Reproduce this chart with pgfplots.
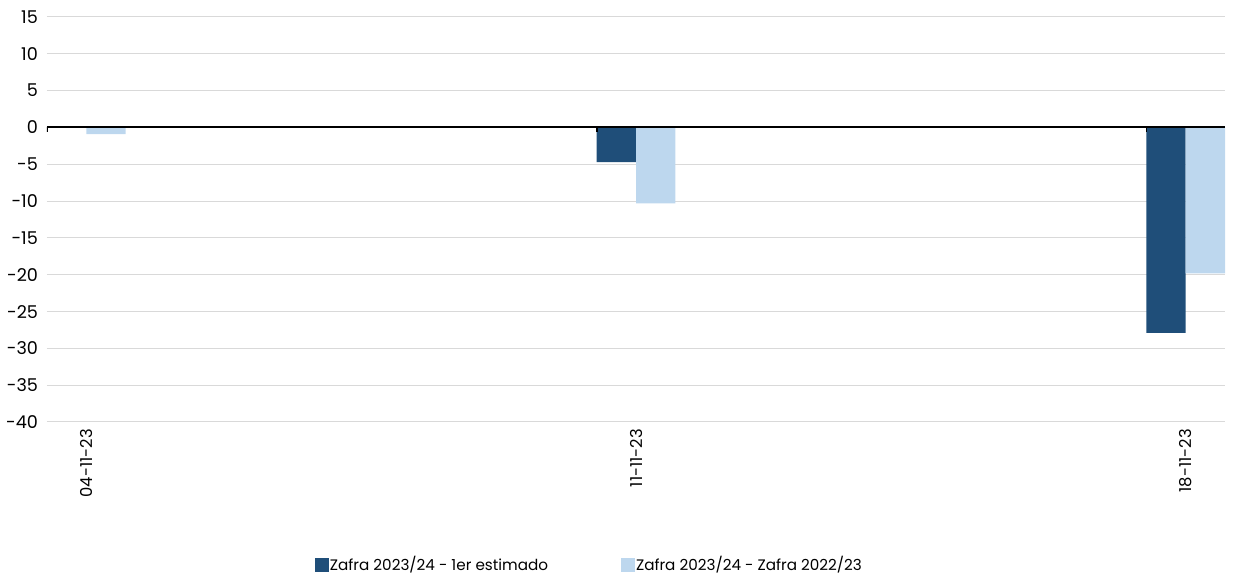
\documentclass[border=0pt]{standalone}
\usepackage{fontspec}
\setmainfont{Poppins}
\usepackage{pgfplots}
\pgfplotsset{compat=1.18}
\definecolor{darkbar}{HTML}{1F4E79}
\definecolor{lightbar}{HTML}{BDD7EE}
\definecolor{gridgrey}{HTML}{D9D9D9}

\begin{document}
\begin{tikzpicture}
\useasboundingbox (-23.5pt,-78pt) rectangle (593pt,211pt);
\begin{axis}[
    scale only axis,
    width=589pt, height=202.5pt,
    xmin=-0.5, xmax=14.5,
    ymin=-40, ymax=15,
    ytick={-40,-35,-30,-25,-20,-15,-10,-5,0,5,10,15},
    yticklabels={-40,-35,-30,-25,-20,-15,-10,-5,0,5,10,15},
    xtick={0,7,14},
    xticklabels={04-11-23,11-11-23,18-11-23},
    xticklabel style={rotate=90, anchor=east, font=\fontsize{8.2}{9}\selectfont},
    yticklabel style={font=\fontsize{8.8}{10}\selectfont, xshift=-1pt},
    major tick length=0pt,
    axis line style={draw=none},
    ymajorgrids,
    grid style={gridgrey, line width=0.5pt},
    bar width=0.5,
    legend style={at={(0.46,-0.353)}, anchor=center, draw=none, legend columns=2,
        font=\fontsize{7.6}{9}\selectfont,
        /tikz/every even column/.append style={column sep=36pt},
        nodes={inner sep=0.5pt}},
    legend cell align=left,
    legend image code/.code={\fill[#1] (0pt,-3.5pt) rectangle (7pt,3.5pt);},
]
\addplot[ybar, bar shift=0pt, fill=darkbar, draw=none] coordinates {(-0.25,0) (6.75,-4.7) (13.75,-27.9)};
\addplot[ybar, bar shift=0pt, fill=lightbar, draw=none] coordinates {(0.25,-0.9) (7.25,-10.3) (14.25,-19.8)};
\legend{Zafra 2023/24 - 1er estimado, Zafra 2023/24 - Zafra 2022/23}
\draw[black, line width=1pt] (axis cs:-0.5,0) -- (axis cs:14.5,0);
\draw[black, line width=0.8pt] (axis cs:-0.5,0) -- ([yshift=-2.5pt]axis cs:-0.5,0);
\draw[black, line width=0.8pt] (axis cs:6.5,0) -- ([yshift=-2.5pt]axis cs:6.5,0);
\draw[black, line width=0.8pt] (axis cs:13.5,0) -- ([yshift=-2.5pt]axis cs:13.5,0);
\end{axis}
\end{tikzpicture}
\end{document}
